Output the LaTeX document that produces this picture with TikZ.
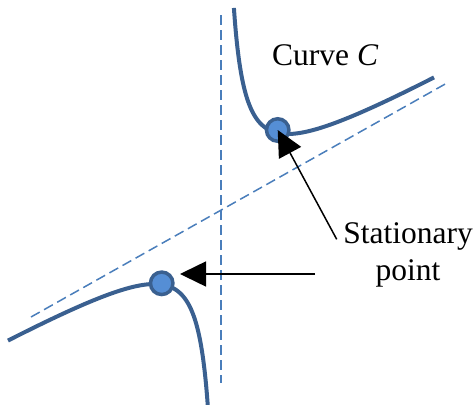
\documentclass[tikz,border=0pt]{standalone}
\usepackage{fontspec}
\setmainfont{Liberation Serif}
\usetikzlibrary{arrows.meta}
\definecolor{curveblue}{HTML}{3A6090}
\definecolor{dashblue}{HTML}{4A7EBB}
\definecolor{ptfill}{HTML}{558ED5}
\begin{document}
\begin{tikzpicture}[x=1pt,y=-1pt,
  curve/.style={draw=curveblue,line width=4pt},
  asym/.style={draw=dashblue,line width=1.5pt,dash pattern=on 10pt off 5pt},
  statpt/.style={circle,fill=ptfill,draw=curveblue,line width=3.5pt,inner sep=0pt,minimum size=22.5pt},
  pointer/.style={draw=black,line width=1.5pt,-{Triangle[length=26pt,width=25pt]}},
  lab/.style={font=\fontsize{31.5}{36.7}\selectfont,inner sep=0pt}]
\useasboundingbox (0,0) rectangle (475,405);
% asymptotes
\coordinate (va1) at (221,15);
\coordinate (va2) at (221,383);
\coordinate (sa1) at (31,317);
\coordinate (sa2) at (447,83);
\draw[asym] (va1) -- (va2);
\draw[asym] (sa1) -- (sa2);
% branches
\draw[curve] plot[domain=12.9:213,samples=200,smooth] ({221+\x},{209-(0.5625*\x+2500/\x)});
\draw[curve] plot[domain=-213:-12.9,samples=200,smooth] ({221+\x},{209-(0.5625*\x+2500/\x)});
% stationary points
\node[statpt] (s1) at (277.7,130) {};
\node[statpt] (s2) at (161.7,283.3) {};
% labels
\node[lab,anchor=base west] (cc) at (272,65.7) {Curve \textit{C}};
\node[lab,anchor=base,align=center] (sp) at (408,280) {Stationary\\point};
% pointers
\coordinate (p1) at (336.7,239.3);
\coordinate (p2) at (315,274);
\coordinate (t2) at (180,274);
\draw[pointer] (p1) -- (s1.center);
\draw[pointer] (p2) -- (t2);
\end{tikzpicture}
\end{document}
